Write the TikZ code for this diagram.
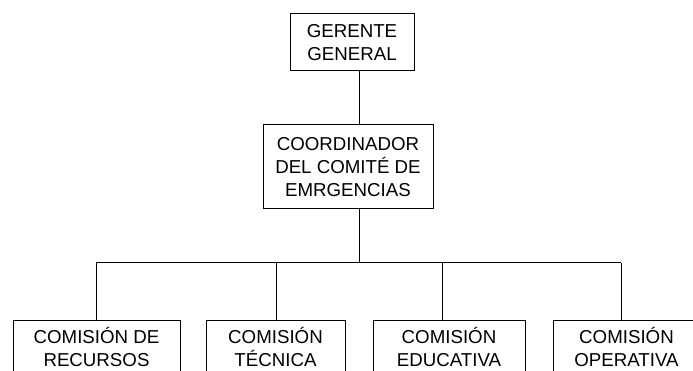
\documentclass[tikz,border=0pt]{standalone}
\usepackage{fontspec}
\setmainfont{Liberation Sans}
\tikzset{
  cargo/.style={draw, line width=1pt, align=center, inner sep=0pt,
    font=\fontsize{18.7}{23}\selectfont},
  comision/.style={cargo, anchor=north, minimum height=53pt},
  enlace/.style={line width=1pt}
}
\begin{document}
\begin{tikzpicture}[x=1pt,y=-1pt]
    \useasboundingbox (0,0) rectangle (693,371);
    \clip (0,0) rectangle (693,371);

    % Direccion
    \node[cargo, minimum width=124pt, minimum height=57pt] (gerente) at (352,42.3) {GERENTE\\GENERAL};
    \node[cargo, minimum width=170pt, minimum height=84pt] (coordinador) at (348,167) {COORDINADOR\\DEL COMITÉ DE\\EMRGENCIAS};

    % Comisiones
    \node[comision, minimum width=167pt] (recursos) at (96.5,320) {COMISIÓN DE\\RECURSOS};
    \node[comision, minimum width=139pt] (tecnica) at (275.5,320) {COMISIÓN\\TÉCNICA};
    \node[comision, minimum width=152pt] (educativa) at (449,320) {COMISIÓN\\EDUCATIVA};
    \node[comision, minimum width=147pt] (operativa) at (626.5,320) {COMISIÓN\\OPERATIVA};

    % Lineas de mando
    \coordinate (eje) at (359,0);
    \coordinate (bus) at (359,263);
    \coordinate (b1) at (96,263);
    \coordinate (b2) at (276,263);
    \coordinate (b3) at (442,263);
    \coordinate (b4) at (621,263);

    \draw[enlace] (gerente.south -| eje) -- (coordinador.north -| eje);
    \draw[enlace] (coordinador.south -| eje) -- (bus);
    \draw[enlace] (b1) -- (b4);
    \draw[enlace] (b1) -- (recursos.north -| b1);
    \draw[enlace] (b2) -- (tecnica.north -| b2);
    \draw[enlace] (b3) -- (educativa.north -| b3);
    \draw[enlace] (b4) -- (operativa.north -| b4);
\end{tikzpicture}
\end{document}
